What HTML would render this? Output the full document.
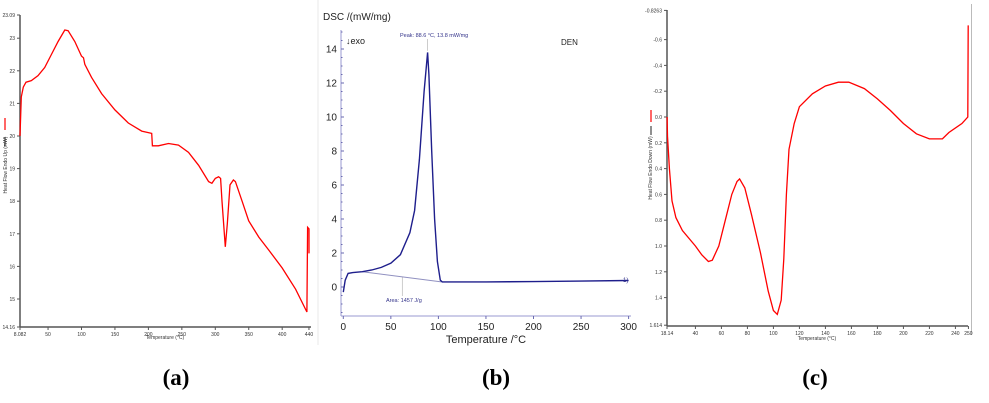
<!DOCTYPE html>
<html><head><meta charset="utf-8"><style>
html,body{margin:0;padding:0;background:#fff;}
svg{display:block;font-family:"Liberation Sans",sans-serif;}
.cap{font-family:"Liberation Serif",serif;font-weight:bold;font-size:23px;}
</style></head><body>
<svg id="s" width="989" height="403" viewBox="0 0 989 403">
<line x1="318" y1="0" x2="318" y2="345" stroke="#e8e8e8"/>
<line x1="971.5" y1="4" x2="971.5" y2="335" stroke="#bbb"/>
<text class="cap" x="176" y="385" text-anchor="middle">(a)</text>
<text class="cap" x="496" y="385" text-anchor="middle">(b)</text>
<text class="cap" x="815" y="385" text-anchor="middle">(c)</text>
</svg>
<script>
// Panel (a)
const aTemps=[8.08,10,13,17,25,35,45,55,65,75,80,90,100,103,105,115,130,150,170,190,205,206,215,230,245,260,275,290,295,300,305,308,310,315,318,322,327,330,340,350,365,380,400,420,437,438,440,440];
const aValues=[20.0,21.2,21.5,21.65,21.7,21.85,22.1,22.5,22.9,23.25,23.23,22.9,22.45,22.4,22.2,21.8,21.3,20.8,20.4,20.15,20.08,19.7,19.7,19.77,19.72,19.5,19.1,18.6,18.55,18.7,18.75,18.7,18.0,16.6,17.3,18.5,18.65,18.6,18.0,17.4,16.9,16.5,15.95,15.3,14.6,17.2,17.15,16.4];
const aXTicks=["8.082","50","100","150","200","250","300","350","400","440"];
const aXTickVals=[8.082,50,100,150,200,250,300,350,400,440];
const aYTicks=["23","22","21","20","19","18","17","16","15"];
const aYTickVals=[23,22,21,20,19,18,17,16,15];
const aYEnds=["23.09","14.16"];
// Panel (b)
const bTemps=[0,2,5,10,20,30,40,50,60,70,75,80,85,88.6,90,93,96,99,102,104,150,200,250,300];
const bValues=[-0.3,0.4,0.8,0.85,0.9,1.0,1.15,1.4,1.9,3.2,4.5,7.5,11.5,13.8,12.5,8,4,1.5,0.4,0.3,0.3,0.32,0.35,0.38];
const bBaseT=[20,103];
const bBaseV=[0.9,0.3];
const bXTicks=["0","50","100","150","200","250","300"];
const bXTickVals=[0,50,100,150,200,250,300];
const bYTicks=["0","2","4","6","8","10","12","14"];
const bYTickVals=[0,2,4,6,8,10,12,14];
// Panel (c)
const cTemps=[18.2,18.5,20,22,25,30,40,45,50,53,58,63,68,72,74,78,83,90,96,100,103,106,108,110,112,116,120,130,140,150,158,170,180,190,200,210,220,230,235,245,249.5,249.8];
const cValues=[0.0,0.15,0.4,0.65,0.78,0.88,1.0,1.07,1.12,1.11,1.0,0.8,0.6,0.5,0.48,0.55,0.75,1.05,1.35,1.5,1.53,1.42,1.1,0.6,0.25,0.05,-0.08,-0.18,-0.24,-0.27,-0.27,-0.22,-0.14,-0.05,0.05,0.13,0.17,0.17,0.12,0.05,0.0,-0.71];
const cXTicks=["18.14","40","60","80","100","120","140","160","180","200","220","240","250"];
const cXTickVals=[18.14,40,60,80,100,120,140,160,180,200,220,240,250];
const cYTicks=["-0.8263","-0.6","-0.4","-0.2","0.0","0.2","0.4","0.6","0.8","1.0","1.2","1.4","1.614"];
const cYTickVals=[-0.8263,-0.6,-0.4,-0.2,0,0.2,0.4,0.6,0.8,1.0,1.2,1.4,1.614];

const NS="http://www.w3.org/2000/svg";
const svg=document.getElementById('s');
function mk(tag,attrs,txt){const e=document.createElementNS(NS,tag);for(const k in attrs)e.setAttribute(k,attrs[k]);if(txt!==undefined)e.textContent=txt;svg.appendChild(e);return e;}
function poly(xs,ys,fx,fy){return xs.map((t,i)=>fx(t).toFixed(1)+','+fy(ys[i]).toFixed(1)).join(' ');}

// ---- Panel a
const ax=t=>20+(t-8.082)*0.669, ay=v=>136-(v-20)*32.6;
let e;
e=mk('line',{x1:20,y1:15,x2:20,y2:327,stroke:'#555','stroke-width':1.5});


e=mk('line',{x1:20,y1:327,x2:311,y2:327,stroke:'#555','stroke-width':1.5});


aXTickVals.forEach((v,i)=>{const x=ax(v);mk('line',{x1:x,y1:327,x2:x,y2:330,stroke:'#555'});
e=mk('text',{x:x,y:336,'font-size':5,'text-anchor':'middle',fill:'#333'},aXTicks[i]);

});
aYTickVals.forEach((v,i)=>{const y=ay(v);mk('line',{x1:17,y1:y,x2:20,y2:y,stroke:'#555'});
e=mk('text',{x:15,y:y+2,'font-size':5,'text-anchor':'end',fill:'#333'},aYTicks[i]);

});
[15,327].forEach((y,i)=>{mk('line',{x1:17,y1:y,x2:20,y2:y,stroke:'#555'});
e=mk('text',{x:15,y:y+2,'font-size':5,'text-anchor':'end',fill:'#333'},aYEnds[i]);

});
e=mk('text',{x:165,y:339,'font-size':5,'text-anchor':'middle',fill:'#333'},'Temperature (°C)');


e=mk('text',{x:0,y:0,'font-size':5,'text-anchor':'middle',fill:'#333',transform:'translate(7,165) rotate(-90)'},'Heat Flow Endo Up (mW)');


mk('line',{x1:5,y1:118,x2:5,y2:130,stroke:'#f33','stroke-width':1.5});
mk('line',{x1:5,y1:137,x2:5,y2:146,stroke:'#222','stroke-width':1});
e=mk('polyline',{points:poly(aTemps,aValues,ax,ay),fill:'none',stroke:'#f00','stroke-width':1.3});



// ---- Panel b
const bx=t=>343.3+t*0.951, by=v=>287-v*17;
e=mk('line',{x1:341,y1:30,x2:341,y2:316,stroke:'#9a9ad0','stroke-width':1});


e=mk('line',{x1:341,y1:316,x2:631,y2:316,stroke:'#9a9ad0','stroke-width':1});


for(let v=-1.5;v<=15;v+=0.5){const y=by(v);mk('line',{x1:341,y1:y,x2:v%2===0?344:342.5,y2:y,stroke:'#6a6ab0'});}
bXTickVals.forEach((v,i)=>{const x=bx(v);mk('line',{x1:x,y1:316,x2:x,y2:319,stroke:'#6a6ab0'});
e=mk('text',{x:x,y:330,'font-size':10,'text-anchor':'middle',fill:'#222'},bXTicks[i]);

});
bYTickVals.forEach((v,i)=>{const y=by(v);
e=mk('text',{x:337,y:y+3.5,'font-size':10,'text-anchor':'end',fill:'#222'},bYTicks[i]);

});
e=mk('text',{x:486,y:343,'font-size':11,'text-anchor':'middle',fill:'#222'},'Temperature /°C');


e=mk('text',{x:323,y:20,'font-size':10,fill:'#222'},'DSC /(mW/mg)');


e=mk('text',{x:346,y:44,'font-size':9,fill:'#222'},'↓exo');


e=mk('text',{x:561,y:45,'font-size':8,fill:'#222'},'DEN');


e=mk('text',{x:400,y:37,'font-size':5.5,fill:'#33338a'},'Peak: 88.6 °C, 13.8 mW/mg');


mk('line',{x1:bx(88.6),y1:39,x2:bx(88.6),y2:by(13.9),stroke:'#aaa','stroke-width':0.6});
e=mk('text',{x:386,y:302,'font-size':5.5,fill:'#33338a'},'Area: 1457 J/g');


mk('line',{x1:bx(62),y1:296,x2:bx(62),y2:by(0.6),stroke:'#aaa','stroke-width':0.6});
e=mk('polyline',{points:poly(bBaseT,bBaseV,bx,by),fill:'none',stroke:'#9090c0','stroke-width':1});


e=mk('polyline',{points:poly(bTemps,bValues,bx,by),fill:'none',stroke:'#1e1e8c','stroke-width':1.4});


e=mk('text',{x:623,y:282,'font-size':6,fill:'#33338a'},'1)');



// ---- Panel c
const cx=t=>667+(t-18.14)*1.3, cy=v=>117+v*129;
e=mk('line',{x1:667,y1:10,x2:667,y2:326,stroke:'#555','stroke-width':1.5});


e=mk('line',{x1:667,y1:326,x2:968,y2:326,stroke:'#555','stroke-width':1.5});


cXTickVals.forEach((v,i)=>{const x=cx(v);mk('line',{x1:x,y1:326,x2:x,y2:329,stroke:'#555'});
e=mk('text',{x:x,y:335,'font-size':5,'text-anchor':'middle',fill:'#333'},cXTicks[i]);

});
cYTickVals.forEach((v,i)=>{const y=cy(v);mk('line',{x1:664,y1:y,x2:667,y2:y,stroke:'#555'});
e=mk('text',{x:662,y:y+2,'font-size':5,'text-anchor':'end',fill:'#333'},cYTicks[i]);

});
e=mk('text',{x:817,y:340,'font-size':5,'text-anchor':'middle',fill:'#333'},'Temperature (°C)');


e=mk('text',{x:0,y:0,'font-size':5,'text-anchor':'middle',fill:'#333',transform:'translate(652,168) rotate(-90)'},'Heat Flow Endo Down (mW)');


mk('line',{x1:651,y1:110,x2:651,y2:122,stroke:'#f33','stroke-width':1.5});
mk('line',{x1:651,y1:126,x2:651,y2:135,stroke:'#222','stroke-width':1});
e=mk('polyline',{points:poly(cTemps,cValues,cx,cy),fill:'none',stroke:'#f00','stroke-width':1.3});


</script>
</body></html>
